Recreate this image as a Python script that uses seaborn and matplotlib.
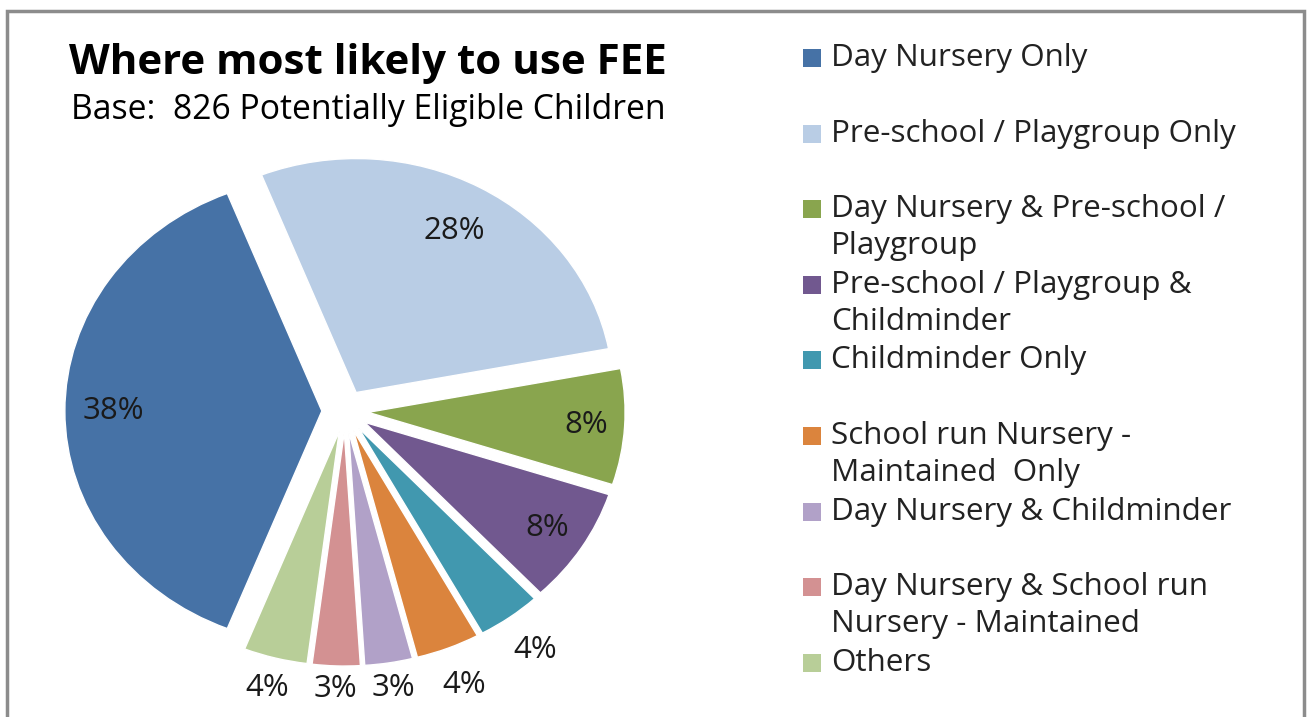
import matplotlib
matplotlib.use("Agg")
import matplotlib.pyplot as plt
import matplotlib.patches as mpatches
import numpy as np
import seaborn as sns

# data
categories = [
    "Day Nursery Only",
    "Pre-school / Playgroup Only",
    "Day Nursery & Pre-school /\nPlaygroup",
    "Pre-school / Playgroup &\nChildminder",
    "Childminder Only",
    "School run Nursery -\nMaintained  Only",
    "Day Nursery & Childminder",
    "Day Nursery & School run\nNursery - Maintained",
    "Others",
]
shares = [38, 28, 8, 8, 4, 4, 3, 3, 4]
pct_labels = ["38%", "28%", "8%", "8%", "4%", "4%", "3%", "3%", "4%"]

colors = ["#4672A6", "#B9CDE5", "#89A54E", "#71588F", "#4198AF",
          "#DB843D", "#B1A1C8", "#D39192", "#B8CE98"]

# distance of each % label from the slice tip (in radii)
label_dist = [0.81, 0.79, 0.85, 0.84, 1.17, 1.17, 1.11, 1.10, 1.13]

W, H = 1307, 717
sns.set_theme(style="white")
plt.rcParams["font.family"] = ["Open Sans", "DejaVu Sans"]

fig = plt.figure(figsize=(W / 100, H / 100), dpi=100)

def px(x, y):
    return x / W, 1 - y / H

# pie axes: centre at (345, 411) px, radius 257 px wide and 234 px tall
lim = 1.3
ax = fig.add_axes([(345 - 257 * lim) / W, (H - 411 - 234 * lim) / H,
                   2 * 257 * lim / W, 2 * 234 * lim / H])
wedges, _ = ax.pie(shares, colors=sns.color_palette(colors), startangle=248.4,
                   counterclock=False, explode=[0.09] * len(shares),
                   wedgeprops=dict(edgecolor="white", linewidth=1))
ax.set_aspect("auto")
ax.set_xlim(-lim, lim)
ax.set_ylim(-lim, lim)
ax.axis("off")

for w, lab, d in zip(wedges, pct_labels, label_dist):
    mid = np.deg2rad((w.theta1 + w.theta2) / 2)
    cx, cy = w.center
    ax.text(cx + d * np.cos(mid), cy + d * np.sin(mid), lab,
            ha="center", va="center", fontsize=22.5, color="#1a1a1a")

# titles
fig.text(*px(368, 63), "Where most likely to use FEE", ha="center", va="center",
         fontsize=30.3, fontweight="bold", color="black")
fig.text(*px(368, 110), "Base:  826 Potentially Eligible Children", ha="center",
         va="center", fontsize=24.3, color="black")

# legend drawn by hand so that wrapped labels keep the square on the first line
for i, (name, c) in enumerate(zip(categories, colors)):
    yc = 58 + i * 75.6
    fig.patches.append(mpatches.Rectangle(px(803, yc + 9), 18 / W, 18 / H,
                                          transform=fig.transFigure,
                                          facecolor=c, edgecolor="none"))
    for j, line in enumerate(name.split("\n")):
        fig.text(*px(831, yc + j * 37), line, ha="left", va="center",
                 fontsize=22.6, color="#222222")

# chart frame
frame = mpatches.Rectangle(px(7, 760), 1297 / W, 749 / H, transform=fig.transFigure,
                           facecolor="none", edgecolor="#8c8c8c", linewidth=2.5)
fig.patches.append(frame)

fig.savefig("out.png", dpi=100)
